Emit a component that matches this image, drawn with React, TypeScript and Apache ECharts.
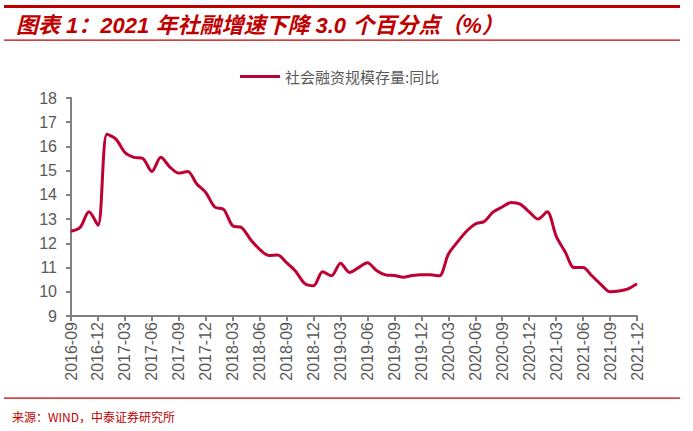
import React, { useEffect, useRef } from "react";
import * as echarts from "echarts";

const months: string[] = [
  "2016-09", "2016-10", "2016-11", "2016-12",
  "2017-01", "2017-02", "2017-03", "2017-04", "2017-05", "2017-06", "2017-07", "2017-08", "2017-09", "2017-10", "2017-11", "2017-12",
  "2018-01", "2018-02", "2018-03", "2018-04", "2018-05", "2018-06", "2018-07", "2018-08", "2018-09", "2018-10", "2018-11", "2018-12",
  "2019-01", "2019-02", "2019-03", "2019-04", "2019-05", "2019-06", "2019-07", "2019-08", "2019-09", "2019-10", "2019-11", "2019-12",
  "2020-01", "2020-02", "2020-03", "2020-04", "2020-05", "2020-06", "2020-07", "2020-08", "2020-09", "2020-10", "2020-11", "2020-12",
  "2021-01", "2021-02", "2021-03", "2021-04", "2021-05", "2021-06", "2021-07", "2021-08", "2021-09", "2021-10", "2021-11", "2021-12",
];

const growth2016: number[] = [12.5, 12.65, 13.3, 12.75];
const growth2017: number[] = [16.5, 16.3, 15.75, 15.55, 15.5, 14.97, 15.55, 15.15, 14.9, 14.97, 14.45, 14.1];
const growth2018: number[] = [13.5, 13.4, 12.72, 12.65, 12.15, 11.75, 11.5, 11.52, 11.2, 10.85, 10.35, 10.25];
const growth2019: number[] = [10.83, 10.66, 11.18, 10.8, 11.0, 11.2, 10.88, 10.7, 10.67, 10.6, 10.67, 10.7];
const growth2020: number[] = [10.7, 10.66, 11.55, 12.05, 12.49, 12.8, 12.9, 13.3, 13.5, 13.69, 13.62, 13.3];
const growth2021: number[] = [13.0, 13.3, 12.3, 11.65, 11.0, 11.0, 10.65, 10.3, 10.0, 10.03, 10.12, 10.33];

const seriesName = "社会融资规模存量:同比";
const titleText = "图表 1：2021 年社融增速下降 3.0 个百分点（%）";
const sourceText = "来源：WIND，中泰证券研究所";

const RED = "#C00000";
const LINE = "#BE0032";
const GRAY_TEXT = "#595959";
const AXIS = "#808080";

export default function App() {
  const ref = useRef<HTMLDivElement>(null);

  useEffect(() => {
    if (!ref.current) return;
    const chart = echarts.init(ref.current, null, { renderer: "svg" });
    const values = [
      ...growth2016,
      ...growth2017,
      ...growth2018,
      ...growth2019,
      ...growth2020,
      ...growth2021,
    ];
    chart.setOption({
      animation: false,
      backgroundColor: "#ffffff",
      textStyle: { fontFamily: "Liberation Sans, Arial, Noto Sans CJK SC, sans-serif" },
      grid: { left: 71, right: 56, top: 98, bottom: 115, containLabel: false },
      legend: {
        top: 64,
        left: 235,
        icon: "rect",
        itemWidth: 40,
        itemHeight: 3,
        itemGap: 6,
        data: [seriesName],
        itemStyle: { color: LINE },
        textStyle: {
          color: GRAY_TEXT,
          fontSize: 15,
          fontFamily: "Noto Sans CJK SC, sans-serif",
        },
      },
      xAxis: {
        type: "category",
        data: months,
        boundaryGap: false,
        axisLine: { lineStyle: { color: AXIS, width: 2 } },
        axisTick: {
          show: true,
          interval: 2,
          length: 5,
          lineStyle: { color: AXIS, width: 2 },
        },
        axisLabel: {
          interval: 2,
          rotate: 90,
          color: GRAY_TEXT,
          fontSize: 16,
          margin: 6,
          fontFamily: "Liberation Sans, Arial, sans-serif",
        },
        splitLine: { show: false },
      },
      yAxis: {
        type: "value",
        min: 9,
        max: 18,
        interval: 1,
        axisLine: { show: true, lineStyle: { color: AXIS, width: 2 } },
        axisTick: { show: true, length: 5, lineStyle: { color: AXIS, width: 2 } },
        axisLabel: {
          color: GRAY_TEXT,
          fontSize: 16,
          margin: 14,
          fontFamily: "Liberation Sans, Arial, sans-serif",
        },
        splitLine: { show: false },
      },
      series: [
        {
          name: seriesName,
          type: "line",
          data: values,
          symbol: "none",
          smooth: 0.3,
          lineStyle: { color: LINE, width: 3 },
          itemStyle: { color: LINE },
        },
      ],
      graphic: [
        { type: "rect", shape: { x: 4, y: 5, width: 676, height: 3 }, style: { fill: RED }, silent: true },
        {
          type: "text",
          x: 16,
          y: 25,
          style: {
            text: titleText,
            fill: RED,
            font: "italic bold 22px 'Liberation Sans', 'Noto Sans CJK SC', sans-serif",
            verticalAlign: "middle",
            align: "left",
          },
          silent: true,
        },
        { type: "rect", shape: { x: 4, y: 39.5, width: 676, height: 1.2 }, style: { fill: RED }, silent: true },
        { type: "rect", shape: { x: 4, y: 397.5, width: 676, height: 1.2 }, style: { fill: RED }, silent: true },
        {
          type: "text",
          x: 12,
          y: 416,
          style: {
            text: sourceText,
            fill: RED,
            font: "12px 'Noto Sans CJK SC', sans-serif",
            verticalAlign: "middle",
            align: "left",
          },
          silent: true,
        },
      ],
    });
    return () => chart.dispose();
  }, []);

  return (
    <div
      ref={ref}
      style={{ position: "fixed", left: 0, top: 0, width: 693, height: 431, background: "#fff" }}
    />
  );
}
